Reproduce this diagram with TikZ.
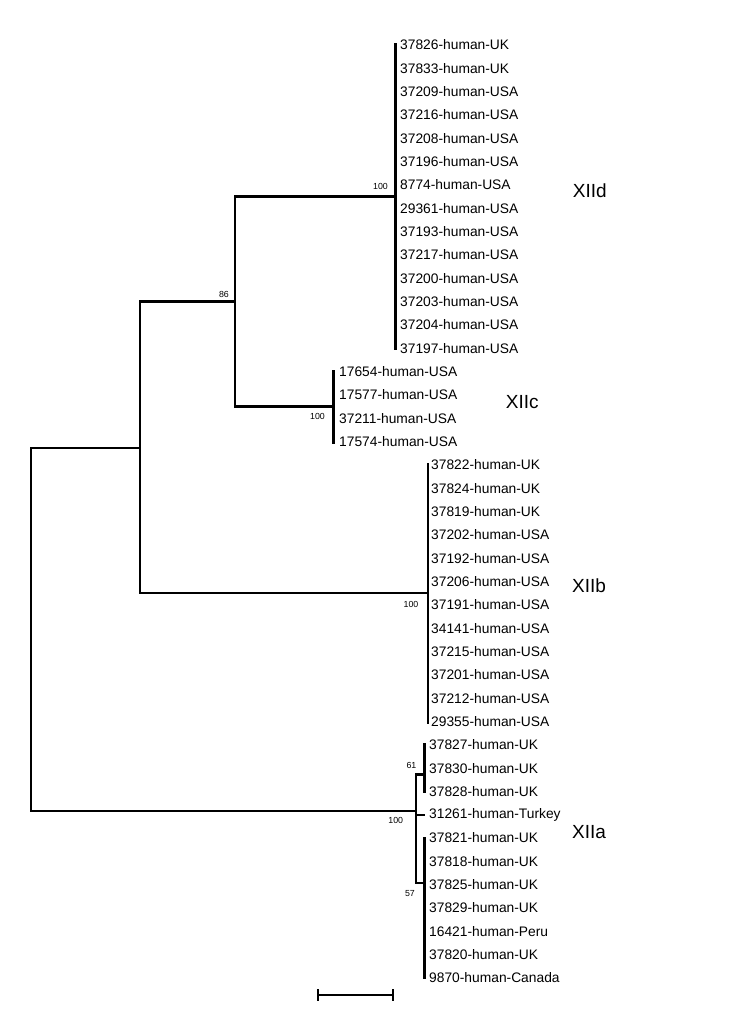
\documentclass[tikz,border=0pt]{standalone}
\usepackage{fontspec}
\setmainfont{Liberation Sans}
\begin{document}
\begin{tikzpicture}[x=1pt,y=-1pt,
  br/.style={line width=2.3pt},
  tip/.style={anchor=west, inner sep=0pt, font=\fontsize{13.8}{16}\selectfont},
  boot/.style={anchor=east, inner sep=0pt, font=\fontsize{8.8}{10}\selectfont},
  clade/.style={anchor=west, inner sep=0pt, font=\fontsize{19}{22}\selectfont}]
\useasboundingbox (0,0) rectangle (750,1028);

% tips
\foreach \t [count=\i from 0] in {37826-human-UK,37833-human-UK,37209-human-USA,37216-human-USA,37208-human-USA,37196-human-USA,8774-human-USA,29361-human-USA,37193-human-USA,37217-human-USA,37200-human-USA,37203-human-USA,37204-human-USA,37197-human-USA}
  \node[tip] (d\i) at (400,{45+23.325*\i}) {\t};
\foreach \t [count=\i from 0] in {17654-human-USA,17577-human-USA,37211-human-USA,17574-human-USA}
  \node[tip] (c\i) at (339,{45+23.325*(\i+14)}) {\t};
\foreach \t [count=\i from 0] in {37822-human-UK,37824-human-UK,37819-human-UK,37202-human-USA,37192-human-USA,37206-human-USA,37191-human-USA,34141-human-USA,37215-human-USA,37201-human-USA,37212-human-USA,29355-human-USA}
  \node[tip] (b\i) at (431,{45+23.325*(\i+18)}) {\t};
\foreach \t [count=\i from 0] in {37827-human-UK,37830-human-UK,37828-human-UK,31261-human-Turkey,37821-human-UK,37818-human-UK,37825-human-UK,37829-human-UK,16421-human-Peru,37820-human-UK,9870-human-Canada}
  \node[tip] (a\i) at (429,{45+23.325*(\i+30)}) {\t};

% internal nodes
\coordinate (nD) at (395.5,196.6);
\coordinate (nC) at (333.5,406.6);
\coordinate (n86) at (235,301.6);
\coordinate (nB) at (428,593.2);
\coordinate (nBCD) at (140,448);
\coordinate (root) at (31,630);
\coordinate (nA) at (416,811);
\coordinate (n61) at (424.5,774.5);
\coordinate (n57) at (424.5,883.3);

% clade verticals
\draw[br] (395.5,43) -- (395.5,350);
\draw[br] (333.5,370) -- (333.5,443.5);
\draw[br] (428,463) -- (428,723.5);
\draw[br] (424.5,743) -- (424.5,793);
\draw[br] (424.5,837) -- (424.5,979);

% branches
\draw[br] (n86) |- (nD);
\draw[br] (n86) |- (nC);
\draw[br] (nBCD) |- (n86);
\draw[br] (nBCD) |- (nB);
\draw[br] (root) |- (nBCD);
\draw[br] (root) |- (nA);
\draw[br] (nA) |- (n61);
\draw[br] (nA) |- (n57);
\draw[br] (nA |- a3.west) -- (n61 |- a3.west);

% bootstrap values
\node[boot] (bD) at (388,186) {100};
\node[boot] (b86) at (229,294) {86};
\node[boot] (bC) at (325,416.7) {100};
\node[boot] (bB) at (418.5,604) {100};
\node[boot] (bA) at (403.3,820) {100};
\node[boot] (b61) at (416.5,765.5) {61};
\node[boot] (b57) at (415,894) {57};

% clade labels
\node[clade] (lD) at (572.7,191) {XIId};
\node[clade] (lC) at (505.7,401.7) {XIIc};
\node[clade] (lB) at (572,586) {XIIb};
\node[clade] (lA) at (572,832) {XIIa};

% scale bar
\draw[br] (317.7,995) -- (393.3,995);
\draw[br] (317.7,989) -- (317.7,1001);
\draw[br] (393.3,989) -- (393.3,1001);
\end{tikzpicture}
\end{document}
